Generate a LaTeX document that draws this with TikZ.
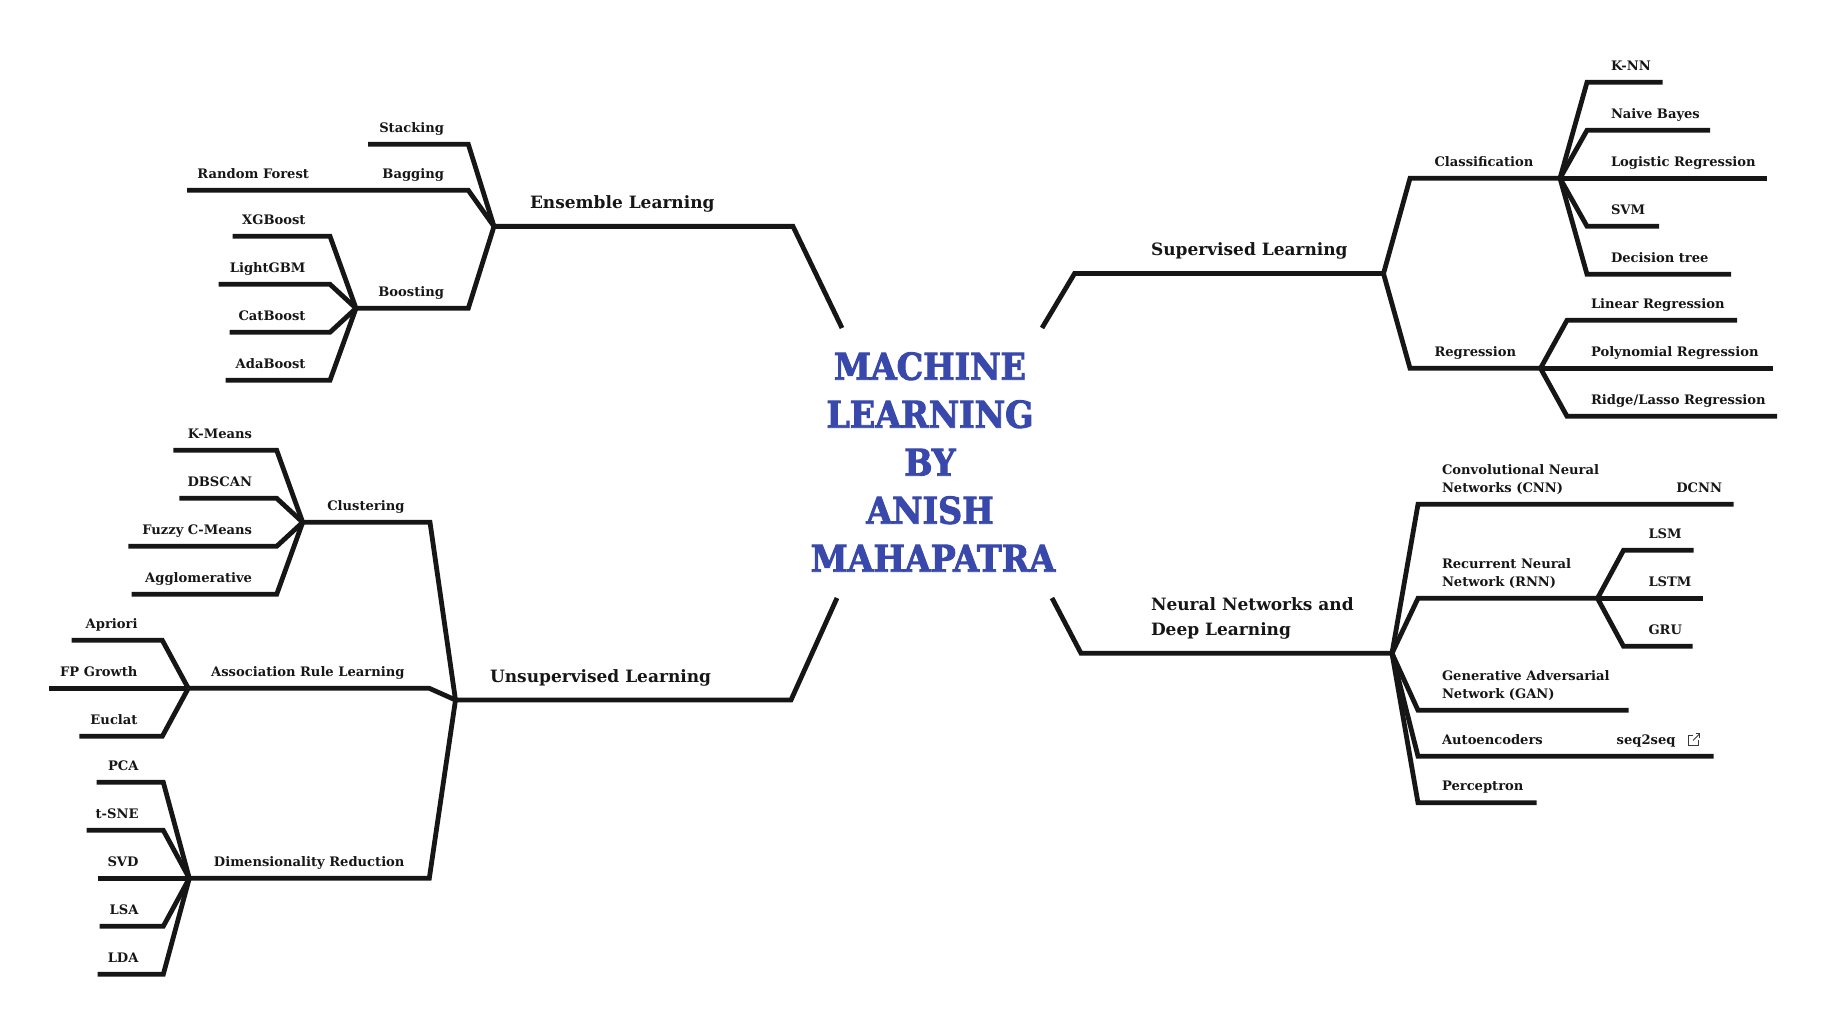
\documentclass[tikz,border=0pt]{standalone}
\usepackage{fontspec}
\usepackage{xcolor}
\newfontfamily\slab{DejaVu Serif}
\newfontfamily\slabheavy{DejaVu Serif Condensed}[BoldFont={* Bold},BoldFeatures={FakeBold=2.5}]
\definecolor{ink}{RGB}{22,22,22}
\definecolor{titleblue}{RGB}{57,73,171}

\begin{document}
\begin{tikzpicture}[x=0.5pt,y=-0.5pt,
    wire/.style={draw=ink,line width=2.4pt,line join=miter,line cap=butt},
    leaf/.style={inner sep=0pt,outer sep=0pt,text=ink,font=\slab\bfseries\fontsize{6.55}{9}\selectfont},
    leafr/.style={leaf,anchor=base east},
    leafl/.style={leaf,anchor=base west},
    mainl/.style={inner sep=0pt,outer sep=0pt,text=ink,anchor=base west,font=\slab\bfseries\fontsize{8.5}{12.25}\selectfont}]
            \useasboundingbox (0,0) rectangle (1827,1027);
            % centre
            \node[inner sep=0pt,align=center,text=titleblue,font=\slabheavy\bfseries\fontsize{18.5}{24}\selectfont] (title) at (930,462) {MACHINE\\LEARNING\\BY\\ANISH\\\hspace*{3pt}MAHAPATRA};
            \coordinate (supStart) at (1042,328);
            \coordinate (ensStart) at (842,328);
            \coordinate (unsStart) at (837,598);
            \coordinate (nnStart) at (1052,598);
            % main branches
            \coordinate (supBend) at (1074.5,273.6);
            \coordinate (supHub) at (1383.5,273.6);
            \coordinate (ensBend) at (793,226.4);
            \coordinate (ensHub) at (494,226.4);
            \coordinate (unsBend) at (791,700);
            \coordinate (unsHub) at (455.5,700);
            \coordinate (nnBend) at (1081,653.3);
            \coordinate (nnHub) at (1392,653.3);
            \draw[wire] (supStart)--(supBend)--(supHub);
            \draw[wire] (ensStart)--(ensBend)--(ensHub);
            \draw[wire] (unsStart)--(unsBend)--(unsHub);
            \draw[wire] (nnStart)--(nnBend)--(nnHub);
            \node[mainl] (supLabel) at (1151,255.5) {Supervised Learning};
            \node[mainl] (ensLabel) at (530,208.5) {Ensemble Learning};
            \node[mainl] (unsLabel) at (490,682) {Unsupervised Learning};
            \node[mainl,align=left] (nnLabel) at (1151,635) {Neural Networks and\\Deep Learning};
            % supervised
            \coordinate (clsBend) at (1410,178.3);
            \coordinate (clsHub) at (1560,178.3);
            \coordinate (regBend) at (1410,368.3);
            \coordinate (regHub) at (1540.5,368.3);
            \draw[wire] (supHub)--(clsBend)--(clsHub);
            \draw[wire] (supHub)--(regBend)--(regHub);
            \node[leafl] (clsLabel) at (1434.5,167) {Classification};
            \node[leafl] (regLabel) at (1434.5,357) {Regression};
            \coordinate (knnBend) at (1587,82.3);
            \coordinate (knnEnd) at (1662.5,82.3);
            \coordinate (nbBend) at (1587,130.3);
            \coordinate (nbEnd) at (1710,130.3);
            \coordinate (logEnd) at (1767,178.3);
            \coordinate (svmBend) at (1587,226.3);
            \coordinate (svmEnd) at (1659,226.3);
            \coordinate (dtBend) at (1587,274.3);
            \coordinate (dtEnd) at (1731,274.3);
            \draw[wire] (clsHub)--(knnBend)--(knnEnd);
            \draw[wire] (clsHub)--(nbBend)--(nbEnd);
            \draw[wire] (clsHub)--(logEnd);
            \draw[wire] (clsHub)--(svmBend)--(svmEnd);
            \draw[wire] (clsHub)--(dtBend)--(dtEnd);
            \node[leafl] (knn) at (1611,71) {K-NN};
            \node[leafl] (nb) at (1611,119) {Naive Bayes};
            \node[leafl] (logr) at (1611,167) {Logistic Regression};
            \node[leafl] (svm) at (1611,215) {SVM};
            \node[leafl] (dt) at (1611,263) {Decision tree};
            \coordinate (linBend) at (1567,320.3);
            \coordinate (linEnd) at (1737,320.3);
            \coordinate (polyEnd) at (1773,368.3);
            \coordinate (ridBend) at (1567,416.3);
            \coordinate (ridEnd) at (1777,416.3);
            \draw[wire] (regHub)--(linBend)--(linEnd);
            \draw[wire] (regHub)--(polyEnd);
            \draw[wire] (regHub)--(ridBend)--(ridEnd);
            \node[leafl] (lin) at (1591,309) {Linear Regression};
            \node[leafl] (poly) at (1591,357) {Polynomial Regression};
            \node[leafl] (rid) at (1591,405) {Ridge/Lasso Regression};
            % neural networks
            \coordinate (cnnBend) at (1418,504.3);
            \coordinate (cnnEnd) at (1733.5,504.3);
            \coordinate (rnnBend) at (1418,598.3);
            \coordinate (rnnHub) at (1597.5,598.3);
            \coordinate (ganBend) at (1418,710.3);
            \coordinate (ganEnd) at (1628.5,710.3);
            \coordinate (aeBend) at (1418,756.3);
            \coordinate (aeEnd) at (1713.5,756.3);
            \coordinate (perBend) at (1418,802.8);
            \coordinate (perEnd) at (1536.5,802.8);
            \draw[wire] (nnHub)--(cnnBend)--(cnnEnd);
            \draw[wire] (nnHub)--(rnnBend)--(rnnHub);
            \draw[wire] (nnHub)--(ganBend)--(ganEnd);
            \draw[wire] (nnHub)--(aeBend)--(aeEnd);
            \draw[wire] (nnHub)--(perBend)--(perEnd);
            \node[leafl,align=left] (cnn) at (1442,492) {Convolutional Neural\\Networks (CNN)};
            \node[leafr] (dcnn) at (1722,492) {DCNN};
            \node[leafl,align=left] (rnn) at (1442,586) {Recurrent Neural\\Network (RNN)};
            \node[leafl,align=left] (gan) at (1442,698) {Generative Adversarial\\Network (GAN)};
            \node[leafl] (ae) at (1442,744) {Autoencoders};
            \node[leafr] (s2s) at (1675.5,744) {seq2seq};
            \node[leafl] (per) at (1442,790) {Perceptron};
            \draw[ink!85,line width=0.5pt] (1693,735)--(1688,735)--(1688,745)--(1698,745)--(1698,740);
            \draw[ink!85,line width=0.5pt] (1693,740.5)--(1699.5,734);
            \draw[ink!85,line width=0.5pt] (1695.5,733.5)--(1699.8,733.5)--(1699.8,738);
            \coordinate (lsmBend) at (1623.5,550.3);
            \coordinate (lsmEnd) at (1693.5,550.3);
            \coordinate (lstmEnd) at (1703,598.3);
            \coordinate (gruBend) at (1623.5,646.3);
            \coordinate (gruEnd) at (1692.5,646.3);
            \draw[wire] (rnnHub)--(lsmBend)--(lsmEnd);
            \draw[wire] (rnnHub)--(lstmEnd);
            \draw[wire] (rnnHub)--(gruBend)--(gruEnd);
            \node[leafl] (lsm) at (1648.5,538) {LSM};
            \node[leafl] (lstm) at (1648.5,586) {LSTM};
            \node[leafl] (gru) at (1648.5,634) {GRU};
            % ensemble
            \coordinate (stkBend) at (468.3,144.3);
            \coordinate (stkEnd) at (368,144.3);
            \coordinate (bagBend) at (468.3,190.3);
            \coordinate (bagEnd) at (187,190.3);
            \coordinate (bstBend) at (468.3,308.3);
            \coordinate (bstHub) at (356,308.3);
            \draw[wire] (ensHub)--(stkBend)--(stkEnd);
            \draw[wire] (ensHub)--(bagBend)--(bagEnd);
            \draw[wire] (ensHub)--(bstBend)--(bstHub);
            \node[leafr] (stk) at (444,133) {Stacking};
            \node[leafr] (bag) at (444,179) {Bagging};
            \node[leafr] (rf) at (309,179) {Random Forest};
            \node[leafr] (bst) at (444,297) {Boosting};
            \coordinate (xgbBend) at (330,236.3);
            \coordinate (xgbEnd) at (232.7,236.3);
            \coordinate (lgbBend) at (330,284.3);
            \coordinate (lgbEnd) at (218.7,284.3);
            \coordinate (catBend) at (330,332.3);
            \coordinate (catEnd) at (229.7,332.3);
            \coordinate (adaBend) at (330,380.3);
            \coordinate (adaEnd) at (225.7,380.3);
            \draw[wire] (bstHub)--(xgbBend)--(xgbEnd);
            \draw[wire] (bstHub)--(lgbBend)--(lgbEnd);
            \draw[wire] (bstHub)--(catBend)--(catEnd);
            \draw[wire] (bstHub)--(adaBend)--(adaEnd);
            \node[leafr] (xgb) at (305.5,225) {XGBoost};
            \node[leafr] (lgb) at (305.5,273) {LightGBM};
            \node[leafr] (cat) at (305.5,321) {CatBoost};
            \node[leafr] (ada) at (305.5,369) {AdaBoost};
            % unsupervised
            \coordinate (cluBend) at (430,522.3);
            \coordinate (cluHub) at (302.7,522.3);
            \coordinate (assBend) at (429.3,688.3);
            \coordinate (assHub) at (188.3,688.3);
            \coordinate (dimBend) at (429.3,878.3);
            \coordinate (dimHub) at (189.3,878.3);
            \draw[wire] (unsHub)--(cluBend)--(cluHub);
            \draw[wire] (unsHub)--(assBend)--(assHub);
            \draw[wire] (unsHub)--(dimBend)--(dimHub);
            \node[leafr] (clu) at (404.5,510) {Clustering};
            \node[leafr] (ass) at (404.5,676) {Association Rule Learning};
            \node[leafr] (dim) at (404.5,866) {Dimensionality Reduction};
            \coordinate (kmBend) at (276.7,450.3);
            \coordinate (kmEnd) at (173.3,450.3);
            \coordinate (dbBend) at (276.7,498.3);
            \coordinate (dbEnd) at (179.3,498.3);
            \coordinate (fzBend) at (276.7,546.3);
            \coordinate (fzEnd) at (128.3,546.3);
            \coordinate (agBend) at (276.7,594.3);
            \coordinate (agEnd) at (131.7,594.3);
            \draw[wire] (cluHub)--(kmBend)--(kmEnd);
            \draw[wire] (cluHub)--(dbBend)--(dbEnd);
            \draw[wire] (cluHub)--(fzBend)--(fzEnd);
            \draw[wire] (cluHub)--(agBend)--(agEnd);
            \node[leafr] (km) at (252,438) {K-Means};
            \node[leafr] (db) at (252,486) {DBSCAN};
            \node[leafr] (fz) at (252,534) {Fuzzy C-Means};
            \node[leafr] (ag) at (252,582) {Agglomerative};
            \coordinate (apBend) at (162.3,640.3);
            \coordinate (apEnd) at (71.7,640.3);
            \coordinate (fpEnd) at (49.3,688.3);
            \coordinate (euBend) at (162.3,736.3);
            \coordinate (euEnd) at (79.3,736.3);
            \draw[wire] (assHub)--(apBend)--(apEnd);
            \draw[wire] (assHub)--(fpEnd);
            \draw[wire] (assHub)--(euBend)--(euEnd);
            \node[leafr] (ap) at (137.5,628) {Apriori};
            \node[leafr] (fp) at (137.5,676) {FP Growth};
            \node[leafr] (eu) at (137.5,724) {Euclat};
            \coordinate (pcaBend) at (163.3,782.3);
            \coordinate (pcaEnd) at (96.7,782.3);
            \coordinate (tsBend) at (163.3,830.3);
            \coordinate (tsEnd) at (86.7,830.3);
            \coordinate (svdEnd) at (97.7,878.3);
            \coordinate (lsaBend) at (163.3,926.3);
            \coordinate (lsaEnd) at (99.7,926.3);
            \coordinate (ldaBend) at (163.3,974.3);
            \coordinate (ldaEnd) at (97.7,974.3);
            \draw[wire] (dimHub)--(pcaBend)--(pcaEnd);
            \draw[wire] (dimHub)--(tsBend)--(tsEnd);
            \draw[wire] (dimHub)--(svdEnd);
            \draw[wire] (dimHub)--(lsaBend)--(lsaEnd);
            \draw[wire] (dimHub)--(ldaBend)--(ldaEnd);
            \node[leafr] (pca) at (138.5,770) {PCA};
            \node[leafr] (ts) at (138.5,818) {t-SNE};
            \node[leafr] (svd) at (138.5,866) {SVD};
            \node[leafr] (lsa) at (138.5,914) {LSA};
            \node[leafr] (lda) at (138.5,962) {LDA};
\end{tikzpicture}
\end{document}
